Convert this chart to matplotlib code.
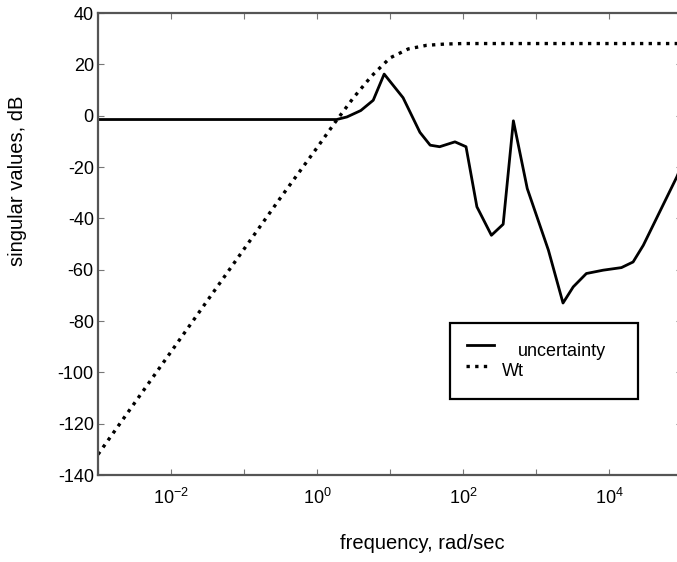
import matplotlib.pyplot as plt
from matplotlib.ticker import FixedLocator, FixedFormatter

plt.rcParams['font.family'] = ['Liberation Sans', 'DejaVu Sans']
plt.rcParams['mathtext.fontset'] = 'custom'
plt.rcParams['mathtext.rm'] = 'Liberation Sans'
plt.rcParams['mathtext.it'] = 'Liberation Sans'
plt.rcParams['mathtext.default'] = 'regular'
plt.rcParams['axes.unicode_minus'] = False

# uncertainty singular values (rad/sec, dB)
unc_freq = [0.001, 1.86, 2.57, 3.98, 5.89, 8.32, 15.1, 25.7, 35.5, 47.9, 77.6,
            110, 155, 245, 355, 490, 759, 1479, 2344, 3236, 4898, 8318,
            14791, 21380, 29512, 85114, 100000]
unc_db = [-1.5, -1.5, -0.5, 2, 6, 16.2, 7, -6.5, -11.5, -12.1, -10.2,
          -12.1, -35.5, -46.6, -42.3, -2, -28.4, -52.4, -73, -66.7, -61.5, -60.2,
          -59.2, -57, -50.5, -23.8, -19]

# weighting Wt
wt_freq = [0.001, 0.00316, 0.01, 0.0316, 0.1, 0.316, 1, 1.78, 3.16, 5.62, 10,
           17.8, 31.6, 56.2, 100, 1000, 10000, 100000]
wt_db = [-132, -112, -92, -72, -52, -32, -12.5, -2.5, 7, 15.5, 22.5,
         26, 27.4, 27.9, 28.1, 28.1, 28.1, 28.1]

xticks = [1e-3, 1e-2, 1e-1, 1e0, 1e1, 1e2, 1e3, 1e4, 1e5]
xlabels = ['', '$10^{-2}$', '', '$10^{0}$', '', '$10^{2}$', '', '$10^{4}$', '']
yticks = list(range(-140, 41, 20))

fig = plt.figure(figsize=(6.77, 5.62), dpi=100)
ax = fig.add_axes([98/677, 87/562, 584/677, 462/562])

ax.plot(unc_freq, unc_db, color='black', lw=2.0, label='uncertainty')
ax.plot(wt_freq, wt_db, color='black', lw=2.4, linestyle=(0, (1, 1.6)), label='Wt')

ax.set_xscale('log')
ax.set_xlim(1e-3, 1e5)
ax.set_ylim(-140, 40)
ax.xaxis.set_major_locator(FixedLocator(xticks))
ax.xaxis.set_major_formatter(FixedFormatter(xlabels))
ax.xaxis.set_minor_locator(FixedLocator([]))
ax.set_yticks(yticks)
ax.tick_params(direction='in', top=True, right=True, length=4, width=0.8,
               color='#777777', labelsize=13, pad=3)
ax.tick_params(axis='x', pad=9)
for s in ax.spines.values():
    s.set_color('#555555')
    s.set_linewidth(1.6)

ax.set_xlabel('frequency, rad/sec', fontsize=14.5, va='center')
ax.set_ylabel('singular values, dB', fontsize=14.5, va='center')
ax.xaxis.set_label_coords(0.555, -0.149)
ax.yaxis.set_label_coords(-0.137, 0.636)

# legend box drawn like the original (axes fraction coords)
tr = ax.transAxes
def fx(px):
    return (px - 98) / 584
def fy(py):
    return (475 - py) / 462
ax.add_patch(plt.Rectangle((fx(450), fy(399)), fx(638) - fx(450), fy(323) - fy(399),
                           transform=tr, fill=False, edgecolor='black', lw=1.6))
ax.plot([fx(467), fx(494)], [fy(345), fy(345)], transform=tr, color='black', lw=2.0)
ax.plot([fx(466), fx(492)], [fy(366), fy(366)], transform=tr, color='black', lw=2.4,
        linestyle=(0, (1, 1.6)))
ax.text(fx(518), fy(351), 'uncertainty', transform=tr, fontsize=13, va='center')
ax.text(fx(502), fy(371), 'Wt', transform=tr, fontsize=13, va='center')

fig.savefig('out.png', dpi=100)
